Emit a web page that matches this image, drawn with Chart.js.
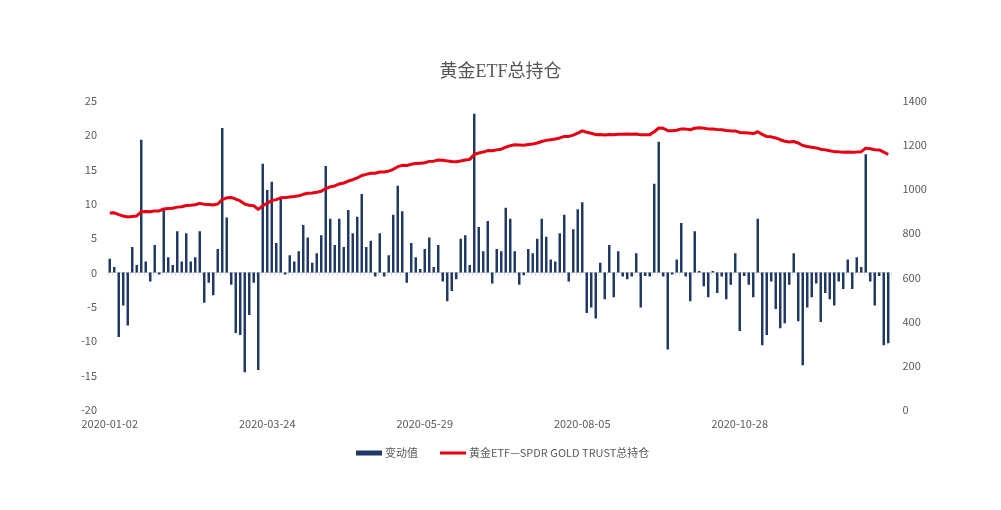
<!DOCTYPE html>
<html>
<head>
<meta charset="utf-8">
<title>黄金ETF总持仓</title>
<script src="https://cdn.jsdelivr.net/npm/chart.js@4/dist/chart.umd.min.js"></script>
<style>
  html, body { margin: 0; padding: 0; background: #fff; }
  #wrap { width: 1001px; height: 510px; }
</style>
</head>
<body>
<div id="wrap"><canvas id="myChart" width="1001" height="510"></canvas></div>
<script>
// 日期（类目轴）
const dates = [
	'2020-01-02', '2020-01-03', '2020-01-06', '2020-01-07', '2020-01-09', '2020-01-10', '2020-01-14', '2020-01-15', '2020-01-17', '2020-01-21',
	'2020-01-23', '2020-01-24', '2020-01-28', '2020-01-29', '2020-01-31', '2020-02-03', '2020-02-05', '2020-02-06', '2020-02-10', '2020-02-11',
	'2020-02-13', '2020-02-14', '2020-02-18', '2020-02-20', '2020-02-21', '2020-02-24', '2020-02-25', '2020-02-27', '2020-02-28', '2020-03-02',
	'2020-03-04', '2020-03-06', '2020-03-10', '2020-03-13', '2020-03-18', '2020-03-24', '2020-03-25', '2020-03-26', '2020-03-27', '2020-03-30',
	'2020-04-01', '2020-04-02', '2020-04-06', '2020-04-07', '2020-04-08', '2020-04-09', '2020-04-13', '2020-04-14', '2020-04-15', '2020-04-16',
	'2020-04-17', '2020-04-20', '2020-04-22', '2020-04-23', '2020-04-24', '2020-04-27', '2020-04-28', '2020-04-30', '2020-05-01', '2020-05-04',
	'2020-05-06', '2020-05-07', '2020-05-11', '2020-05-12', '2020-05-13', '2020-05-14', '2020-05-18', '2020-05-19', '2020-05-21', '2020-05-26',
	'2020-05-29', '2020-06-01', '2020-06-02', '2020-06-04', '2020-06-05', '2020-06-08', '2020-06-10', '2020-06-11', '2020-06-12', '2020-06-15',
	'2020-06-17', '2020-06-18', '2020-06-19', '2020-06-22', '2020-06-23', '2020-06-25', '2020-06-26', '2020-06-29', '2020-06-30', '2020-07-01',
	'2020-07-02', '2020-07-06', '2020-07-08', '2020-07-09', '2020-07-10', '2020-07-14', '2020-07-15', '2020-07-16', '2020-07-20', '2020-07-21',
	'2020-07-22', '2020-07-23', '2020-07-24', '2020-07-27', '2020-07-29', '2020-08-05', '2020-08-06', '2020-08-07', '2020-08-11', '2020-08-12',
	'2020-08-13', '2020-08-17', '2020-08-19', '2020-08-20', '2020-08-24', '2020-08-26', '2020-08-27', '2020-08-31', '2020-09-01', '2020-09-03',
	'2020-09-08', '2020-09-10', '2020-09-11', '2020-09-14', '2020-09-16', '2020-09-18', '2020-09-21', '2020-09-23', '2020-09-25', '2020-09-28',
	'2020-09-30', '2020-10-01', '2020-10-02', '2020-10-06', '2020-10-08', '2020-10-12', '2020-10-14', '2020-10-16', '2020-10-20', '2020-10-22',
	'2020-10-28', '2020-10-29', '2020-10-30', '2020-11-02', '2020-11-04', '2020-11-05', '2020-11-09', '2020-11-10', '2020-11-11', '2020-11-12',
	'2020-11-16', '2020-11-17', '2020-11-18', '2020-11-19', '2020-11-23', '2020-11-24', '2020-11-27', '2020-11-30', '2020-12-01', '2020-12-02',
	'2020-12-04', '2020-12-07', '2020-12-09', '2020-12-10', '2020-12-14', '2020-12-15', '2020-12-17', '2020-12-18', '2020-12-21', '2020-12-22',
	'2020-12-24', '2020-12-28', '2020-12-29', '2020-12-31'
];

// 横轴上显示的日期
const shownDates = ['2020-01-02', '2020-03-24', '2020-05-29', '2020-08-05', '2020-10-28'];

// 变动值（吨）
const changes = [
	2.0, 0.8, -9.4, -4.8, -7.7, 3.7, 1.1, 19.3, 1.6, -1.3,
	4.0, -0.3, 9.3, 2.2, 1.1, 6.0, 1.6, 5.7, 1.6, 2.2,
	6.0, -4.4, -1.5, -3.3, 3.4, 21.0, 8.0, -1.8, -8.8, -9.1,
	-14.5, -6.2, -1.5, -14.2, 15.8, 12.0, 13.2, 4.3, 10.8, -0.3,
	2.5, 1.6, 3.1, 6.9, 5.1, 1.4, 2.8, 5.4, 15.5, 7.8,
	4.0, 7.8, 3.7, 9.1, 5.7, 8.1, 11.4, 3.7, 4.6, -0.6,
	5.7, -0.6, 2.5, 8.4, 12.6, 8.9, -1.5, 4.3, 2.2, 0.5,
	3.4, 5.1, 0.8, 4.0, -1.3, -4.2, -2.7, -1.0, 4.9, 5.4,
	1.1, 23.1, 6.6, 3.1, 7.5, -1.6, 3.4, 3.1, 9.4, 7.8,
	3.1, -1.8, -0.4, 3.4, 2.8, 4.9, 7.8, 5.2, 1.9, 1.6,
	5.7, 8.4, -1.3, 6.3, 9.2, 10.2, -5.9, -5.1, -6.7, 1.4,
	-3.9, 4.0, -3.6, 3.1, -0.6, -1.0, -0.6, 2.8, -5.1, -0.5,
	-0.6, 12.9, 19.0, -0.6, -11.2, -0.3, 1.9, 7.2, -0.6, -4.2,
	6.0, 0.2, -2.0, -3.6, 0.2, -3.0, -0.6, -3.9, -1.8, 2.8,
	-8.5, -0.5, -1.8, -3.6, 7.8, -10.6, -9.1, -1.3, -5.3, -8.1,
	-7.4, -1.8, 2.8, -7.1, -13.5, -5.1, -3.6, -1.6, -7.2, -3.0,
	-3.9, -4.8, -1.3, -2.4, 1.9, -2.4, 2.2, 0.8, 17.2, -1.3,
	-4.8, -0.5, -10.6, -10.3
];

// SPDR GOLD TRUST 总持仓（吨）
const holdings = [
	891, 892, 884, 878, 873, 876, 878, 897, 898, 897,
	901, 901, 910, 912, 913, 918, 920, 925, 926, 929,
	935, 931, 930, 928, 932, 952, 960, 962, 954, 946,
	932, 926, 924, 908, 924, 936, 948, 952, 960, 961,
	964, 966, 969, 976, 981, 982, 985, 990, 1002, 1010,
	1014, 1023, 1027, 1036, 1042, 1050, 1061, 1066, 1071, 1071,
	1077, 1077, 1081, 1089, 1101, 1107, 1106, 1112, 1115, 1117,
	1119, 1125, 1126, 1131, 1130, 1127, 1124, 1123, 1127, 1131,
	1134, 1156, 1163, 1167, 1174, 1173, 1177, 1180, 1189, 1196,
	1200, 1199, 1198, 1201, 1204, 1208, 1215, 1220, 1223, 1226,
	1231, 1238, 1238, 1244, 1253, 1263, 1257, 1252, 1246, 1247,
	1244, 1247, 1245, 1248, 1248, 1249, 1248, 1249, 1245, 1245,
	1246, 1259, 1276, 1275, 1264, 1264, 1266, 1272, 1271, 1268,
	1275, 1277, 1275, 1272, 1271, 1269, 1268, 1265, 1263, 1263,
	1256, 1255, 1253, 1251, 1259, 1247, 1237, 1236, 1231, 1223,
	1216, 1213, 1215, 1208, 1197, 1192, 1189, 1186, 1180, 1177,
	1173, 1169, 1168, 1166, 1167, 1166, 1167, 1169, 1185, 1182,
	1178, 1177, 1167, 1156
];

const textColor = '#595959';
const sansFont = "'Noto Sans CJK SC', 'Liberation Sans', sans-serif";

// 零值处的坐标轴线和刻度
const zeroAxis = {
	id: 'zeroAxis',
	beforeDatasetsDraw(chart) {
		const { ctx, chartArea, scales } = chart;
		const x = scales.x;
		const y0 = Math.round(scales.y.getPixelForValue(0)) + 0.5;
		const step = x.getPixelForValue(1) - x.getPixelForValue(0);
		ctx.save();
		ctx.strokeStyle = '#d4d8de';
		ctx.lineWidth = 1;
		ctx.beginPath();
		ctx.moveTo(chartArea.left, y0);
		ctx.lineTo(chartArea.right, y0);
		for (let i = 0; i <= dates.length; i++) {
			const px = Math.round(x.getPixelForValue(0) - step / 2 + i * step) + 0.5;
			ctx.moveTo(px, y0);
			ctx.lineTo(px, y0 + 3);
		}
		ctx.stroke();
		ctx.restore();
	}
};

// 底部图例：柱形用方块，折线用线段
const bottomLegend = {
	id: 'bottomLegend',
	afterDraw(chart) {
		const { ctx } = chart;
		const sets = chart.data.datasets;
		const y = 453;
		const swatchW = 26, textGap = 3, itemGap = 22;
		ctx.save();
		ctx.font = '11px ' + sansFont;
		ctx.textBaseline = 'middle';
		ctx.textAlign = 'left';
		const widths = sets.map(ds => swatchW + textGap + ctx.measureText(ds.label).width);
		const total = widths.reduce((a, b) => a + b, 0) + itemGap * (sets.length - 1);
		let x = Math.round(503 - total / 2);
		sets.forEach((ds, i) => {
			if (ds.type === 'line') {
				ctx.strokeStyle = ds.borderColor;
				ctx.lineWidth = 3;
				ctx.beginPath();
				ctx.moveTo(x, y);
				ctx.lineTo(x + swatchW, y);
				ctx.stroke();
			} else {
				ctx.fillStyle = ds.backgroundColor;
				ctx.fillRect(x, y - 2.5, swatchW, 5);
			}
			ctx.fillStyle = textColor;
			ctx.fillText(ds.label, x + swatchW + textGap, y);
			x += widths[i] + itemGap;
		});
		ctx.restore();
	}
};

const ctx = document.getElementById('myChart').getContext('2d');
const myChart = new Chart(ctx, {
	type: 'bar',
	data: {
		labels: dates,
		datasets: [{
			label: '变动值',
			data: changes,
			yAxisID: 'y',
			backgroundColor: '#1f3864',
			barPercentage: 0.55,
			categoryPercentage: 1,
			order: 2
		}, {
			type: 'line',
			label: '黄金ETF—SPDR GOLD TRUST总持仓',
			data: holdings,
			yAxisID: 'y1',
			borderColor: '#e60012',
			backgroundColor: '#e60012',
			borderWidth: 3,
			pointRadius: 0,
			borderJoinStyle: 'round',
			order: 1
		}]
	},
	options: {
		responsive: false,
		animation: false,
		layout: { padding: { left: 0, right: 0, top: 0, bottom: 72.8 } },
		plugins: {
			title: {
				display: true,
				text: '黄金ETF总持仓',
				color: '#555555',
				font: { family: "'Liberation Serif', 'Noto Sans CJK SC', serif", size: 18, weight: 'normal' },
				padding: { top: 61, bottom: 18 }
			},
			legend: { display: false },
			tooltip: { enabled: false }
		},
		scales: {
			x: {
				offset: true,
				grid: { display: false, drawTicks: false },
				border: { display: false },
				ticks: {
					autoSkip: false,
					maxRotation: 0,
					padding: 7,
					color: textColor,
					font: { family: sansFont, size: 11 },
					callback: function (value, index) {
						return shownDates.includes(dates[index]) ? dates[index] : '';
					}
				}
			},
			y: {
				position: 'left',
				min: -20,
				max: 25,
				grid: { display: false, drawTicks: false },
				border: { display: false },
				ticks: {
					stepSize: 5,
					padding: 10.5,
					color: textColor,
					font: { family: sansFont, size: 11 }
				},
				afterFit: function (scale) { scale.width = 107.5; }
			},
			y1: {
				position: 'right',
				min: 0,
				max: 1400,
				grid: { display: false, drawTicks: false },
				border: { display: false },
				ticks: {
					stepSize: 200,
					padding: 12,
					color: textColor,
					font: { family: sansFont, size: 11 },
					callback: function (value) { return String(value); }
				},
				afterFit: function (scale) { scale.width = 110.5; }
			}
		}
	},
	plugins: [zeroAxis, bottomLegend]
});
</script>
</body>
</html>
